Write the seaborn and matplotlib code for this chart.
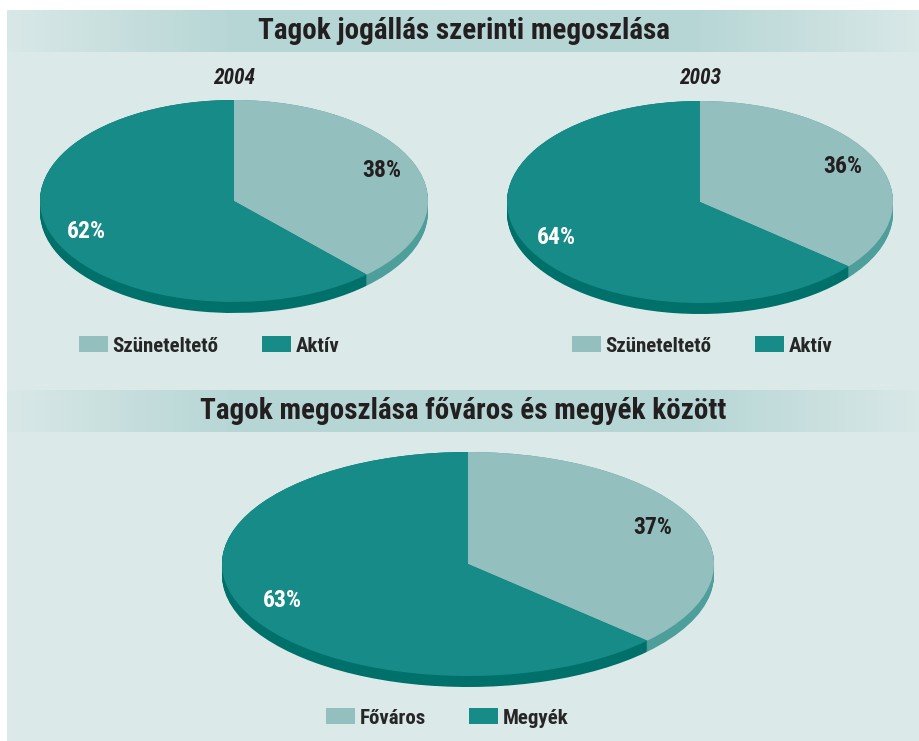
import numpy as np
import matplotlib
matplotlib.use("Agg")
import matplotlib.pyplot as plt
from matplotlib import font_manager
from matplotlib.colors import LinearSegmentedColormap
import seaborn as sns

# data
status_labels = ["Szüneteltető", "Aktív"]
status_2004 = [38, 62]
status_2003 = [36, 64]
region_labels = ["Főváros", "Megyék"]
region_values = [37, 63]

title_top = "Tagok jogállás szerinti megoszlása"
title_bottom = "Tagok megoszlása főváros és megyék között"

LIGHT = "#93bfbf"
DARK = "#178b87"
LIGHT_SIDE = "#4e9e9b"
DARK_SIDE = "#00706a"
BG = "#dce9e9"

sns.set_theme(style="white")
available = {f.name for f in font_manager.fontManager.ttflist}
family = ["DejaVu Sans"]
for name in ["Roboto Condensed", "Liberation Sans Narrow", "DejaVu Sans Condensed",
             "Open Sans Condensed", "Arial Narrow"]:
    if name in available:
        family = [name, "DejaVu Sans"]
        break
plt.rcParams["font.family"] = family
plt.rcParams["font.weight"] = "bold"

W, H = 920, 741
fig = plt.figure(figsize=(W / 100, H / 100), dpi=100, facecolor="white")

# background panel
bg = fig.add_axes([7 / W, 0, 1 - 7 / W, (H - 10) / H])
bg.set_facecolor(BG)
bg.set_xticks([]); bg.set_yticks([])
for s in bg.spines.values():
    s.set_visible(False)

band_cmap = LinearSegmentedColormap.from_list(
    "band", ["#d8e8e7", "#b6d6d5", "#b6d6d5", "#b6d6d5", "#d8e8e7"])


def title_band(y_top, y_bot, text):
    ax = fig.add_axes([7 / W, 1 - y_bot / H, 1 - 7 / W, (y_bot - y_top) / H])
    ax.imshow(np.linspace(0, 1, 256)[None, :], aspect="auto", cmap=band_cmap,
              extent=[0, 1, 0, 1])
    ax.set_axis_off()
    ax.text(0.5, 0.5, text, ha="center", va="center", fontsize=21,
            fontweight="bold", color="#231f20", transform=ax.transAxes)


title_band(10, 52, title_top)
title_band(390, 432, title_bottom)


def pie3d(values, cx, cy, rx, ry, depth, steps=14):
    d = depth / ry
    ax = fig.add_axes([(cx - rx) / W, 1 - (cy + ry + depth) / H,
                       2 * rx / W, (2 * ry + depth) / H])
    for k in np.linspace(d, 0, steps):
        ax.pie(values, colors=[LIGHT_SIDE, DARK_SIDE], startangle=90,
               counterclock=False, center=(0, -k), radius=1,
               wedgeprops=dict(linewidth=0))
    wedges, _, autotexts = ax.pie(
        values, colors=[LIGHT, DARK], startangle=90, counterclock=False,
        radius=1, autopct="%d%%", pctdistance=0.82,
        wedgeprops=dict(linewidth=0))
    autotexts[0].set_color("#231f20")
    autotexts[1].set_color("white")
    for t in autotexts:
        t.set_fontsize(17)
        t.set_fontweight("bold")
    ax.set_aspect("auto")
    ax.set_xlim(-1, 1)
    ax.set_ylim(-1 - d, 1)
    ax.set_axis_off()
    return ax, wedges


ax1, w1 = pie3d(status_2004, 234, 201, 194, 101, 11)
ax2, w2 = pie3d(status_2003, 700, 202, 193, 101, 11)
ax3, w3 = pie3d(region_values, 468, 564, 246, 112, 11)

fig.text(234 / W, 1 - 78 / H, "2004", ha="center", va="center", fontsize=15.5,
         fontweight="bold", style="italic", color="#231f20")
fig.text(700 / W, 1 - 78 / H, "2003", ha="center", va="center", fontsize=15.5,
         fontweight="bold", style="italic", color="#231f20")

leg_kw = dict(ncol=2, frameon=False, handlelength=1.4, handleheight=0.77,
              handletextpad=0.2, columnspacing=2.1, loc="center left",
              borderpad=0, borderaxespad=0, prop=dict(weight="bold", size=15))
fig.legend(w1, status_labels, bbox_to_anchor=(79 / W, 1 - 346 / H), **leg_kw)
fig.legend(w2, status_labels, bbox_to_anchor=(572 / W, 1 - 346 / H), **leg_kw)
fig.legend(w3, region_labels, bbox_to_anchor=(326 / W, 1 - 718 / H), **leg_kw)

fig.savefig("out.png", dpi=100, facecolor="white")
